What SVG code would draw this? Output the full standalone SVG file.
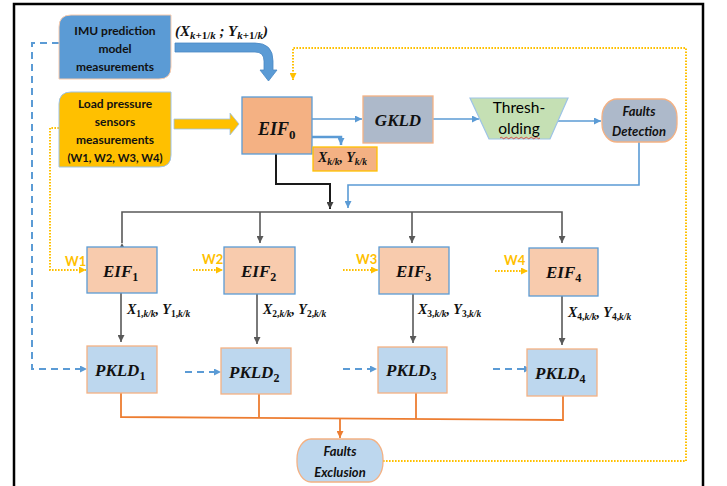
<svg xmlns="http://www.w3.org/2000/svg" width="727" height="486" viewBox="0 0 727 486">
<defs>
<style>
.sans{font-family:Lato,"Liberation Sans",sans-serif;font-weight:bold;fill:#111;text-anchor:middle}
.it{font-style:italic}
.reg{font-family:Lato,"Liberation Sans",sans-serif;fill:#000;text-anchor:middle}
.math{font-family:"Liberation Serif","DejaVu Serif",serif;font-weight:bold;font-style:italic;fill:#111}
.up{font-style:normal}
.mid{text-anchor:middle}
.wl{font-family:Lato,"Liberation Sans",sans-serif;font-weight:bold;fill:#FFC000;font-size:13px}
.blue{fill:none;stroke:#5B9BD5;stroke-width:1.6}
.grey{fill:none;stroke:#595959;stroke-width:1.6}
.dark{fill:none;stroke:#1a1a1a;stroke-width:2}
.orng{fill:none;stroke:#ED7D31;stroke-width:1.8}
.ydot{fill:none;stroke:#FFC000;stroke-width:2;stroke-dasharray:1.6 1.4}
.bdash{fill:none;stroke:#5B9BD5;stroke-width:2;stroke-dasharray:7 5}
.eif{fill:#F8CBAD;stroke:#5B9BD5;stroke-width:1.3}
.pkld{fill:#BDD7EE;stroke:#F4B183;stroke-width:1.3}
</style>
<marker id="ab" viewBox="0 0 10 10" refX="10" refY="5" markerWidth="7" markerHeight="7" markerUnits="userSpaceOnUse" orient="auto"><path d="M0,0L10,5L0,10z" fill="#5B9BD5"/></marker>
<marker id="ag" viewBox="0 0 10 10" refX="10" refY="5" markerWidth="7" markerHeight="7" markerUnits="userSpaceOnUse" orient="auto"><path d="M0,0L10,5L0,10z" fill="#595959"/></marker>
<marker id="ak" viewBox="0 0 10 10" refX="10" refY="5" markerWidth="7" markerHeight="7" markerUnits="userSpaceOnUse" orient="auto"><path d="M0,0L10,5L0,10z" fill="#404040"/></marker>
<marker id="ao" viewBox="0 0 10 10" refX="10" refY="5" markerWidth="7" markerHeight="7" markerUnits="userSpaceOnUse" orient="auto"><path d="M0,0L10,5L0,10z" fill="#ED7D31"/></marker>
<marker id="ay" viewBox="0 0 10 10" refX="10" refY="5" markerWidth="7" markerHeight="7" markerUnits="userSpaceOnUse" orient="auto"><path d="M0,0L10,5L0,10z" fill="#FFC000"/></marker>
</defs>
<rect x="0" y="0" width="727" height="486" fill="#fff"/>
<rect id="frame" x="14" y="4" width="689" height="492" fill="none" stroke="#000" stroke-width="2.5"/>

<g id="connectors">
<path d="M175,43 L255,43 Q273,43 273,61 L273,70 L277,70 L268.5,81 L260,70 L264,70 L264,61 Q264,52 255,52 L175,52 Z" fill="#5B9BD5" stroke="#4A88C4" stroke-width="0.8"/>
<path d="M174,119 L230,119 L230,113 L239,124 L230,135 L230,129 L174,129 Z" fill="#FFC000" stroke="#9DC3E6" stroke-width="0.8"/>
<path class="blue" d="M312,119 H362" marker-end="url(#ab)"/>
<path class="blue" d="M433,119 H479" marker-end="url(#ab)"/>
<path class="blue" d="M558,121 H601" marker-end="url(#ab)"/>
<path class="blue" d="M639,142 V185 H348 V208" marker-end="url(#ab)"/>
<path class="blue" style="stroke-width:2.5" d="M312,137 H341 V145" marker-end="url(#ab)"/>
<path class="dark" d="M276,154 V184 H330 V209" marker-end="url(#ak)"/>
<path class="grey" d="M122,243 V212 H562 V243" marker-start="url(#ag)" marker-end="url(#ag)"/>
<path class="grey" d="M260,212 V243" marker-end="url(#ag)"/>
<path class="grey" d="M412,212 V243" marker-end="url(#ag)"/>
<path class="grey" d="M121,293 V342" marker-end="url(#ag)"/>
<path class="grey" d="M257,294 V344" marker-end="url(#ag)"/>
<path class="grey" d="M413,294 V343" marker-end="url(#ag)"/>
<path class="grey" d="M562,296 V345" marker-end="url(#ag)"/>
<path class="orng" d="M121,393 V417 L563,420 V396"/>
<path class="orng" d="M259,394 V418"/>
<path class="orng" d="M416,393 V419"/>
<path class="orng" d="M340,419 V438" marker-end="url(#ao)"/>
<path class="ydot" d="M383,461 H686 V48 H293 V80" marker-end="url(#ay)"/>
<path class="ydot" d="M59,128 H50 V270 H86" marker-end="url(#ay)"/>
<path class="ydot" d="M193,270 H223" marker-end="url(#ay)"/>
<path class="ydot" d="M343,270 H378" marker-end="url(#ay)"/>
<path class="ydot" d="M495,271 H528" marker-end="url(#ay)"/>
<path class="bdash" d="M59,43 H32 V369 H87" marker-end="url(#ab)"/>
<path class="bdash" d="M185,372 H221" marker-end="url(#ab)"/>
<path class="bdash" d="M343,369 H377" marker-end="url(#ab)"/>
<path class="bdash" d="M493,369 H531" marker-end="url(#ab)"/>
</g>

<g id="labels">
<text class="math" x="175" y="36" font-size="15">(X<tspan font-size="11" dy="3">k<tspan class="up">+1/</tspan>k</tspan><tspan dy="-3"> ; Y</tspan><tspan font-size="11" dy="3">k<tspan class="up">+1/</tspan>k</tspan><tspan dy="-3">)</tspan></text>
<text class="wl" x="65" y="266">W1</text>
<text class="wl" x="202" y="264">W2</text>
<text class="wl" x="356" y="264">W3</text>
<text class="wl" x="504" y="265">W4</text>
<text class="math" x="127" y="314" font-size="14">X<tspan font-size="9.5" dy="3"><tspan class="up">1,</tspan>k/k</tspan><tspan dy="-3">, Y</tspan><tspan font-size="9.5" dy="3"><tspan class="up">1,</tspan>k/k</tspan></text>
<text class="math" x="263" y="314" font-size="14">X<tspan font-size="9.5" dy="3"><tspan class="up">2,</tspan>k/k</tspan><tspan dy="-3">, Y</tspan><tspan font-size="9.5" dy="3"><tspan class="up">2,</tspan>k/k</tspan></text>
<text class="math" x="418" y="314" font-size="14">X<tspan font-size="9.5" dy="3"><tspan class="up">3,</tspan>k/k</tspan><tspan dy="-3">, Y</tspan><tspan font-size="9.5" dy="3"><tspan class="up">3,</tspan>k/k</tspan></text>
<text class="math" x="568" y="317" font-size="14">X<tspan font-size="9.5" dy="3"><tspan class="up">4,</tspan>k/k</tspan><tspan dy="-3">, Y</tspan><tspan font-size="9.5" dy="3"><tspan class="up">4,</tspan>k/k</tspan></text>
</g>

<g id="imu">
<path d="M71,15 H171 V67 Q171,79 159,79 H59 V27 Q59,15 71,15 Z" fill="#5B9BD5" stroke="#F8CBAD" stroke-width="1"/>
<text class="sans" x="115" y="35" font-size="12">IMU prediction</text>
<text class="sans" x="115" y="53" font-size="12">model</text>
<text class="sans" x="115" y="71" font-size="12">measurements</text>
</g>

<g id="load">
<path d="M71,92 H171 V155 Q171,167 159,167 H59 V104 Q59,92 71,92 Z" fill="#FFC000" stroke="#9DC3E6" stroke-width="1"/>
<text class="sans" x="115" y="108" font-size="12">Load pressure</text>
<text class="sans" x="115" y="126" font-size="12">sensors</text>
<text class="sans" x="115" y="144" font-size="12">measurements</text>
<text class="sans" x="115" y="162" font-size="12" textLength="95" lengthAdjust="spacingAndGlyphs">(W1, W2, W3, W4)</text>
</g>

<g id="eif0">
<rect x="242" y="97" width="70" height="57" fill="#F4B183" stroke="#5B9BD5" stroke-width="1.3"/>
<text class="math" x="258" y="135" font-size="18">EIF<tspan class="up" font-size="13" dy="4">0</tspan></text>
</g>

<g id="xkk">
<rect x="313" y="147" width="64" height="24" fill="#F4B183" stroke="#FFC000" stroke-width="1.3"/>
<text class="math" x="318" y="162" font-size="14">X<tspan font-size="9.5" dy="3">k/k</tspan><tspan dy="-3">, Y</tspan><tspan font-size="9.5" dy="3">k/k</tspan></text>
</g>

<g id="gkld">
<rect x="363" y="96" width="70" height="47" fill="#ADB9CA" stroke="#F4B183" stroke-width="1.3"/>
<text class="math mid" x="398" y="126" font-size="17">GKLD</text>
</g>

<g id="thresholding">
<path d="M470,98 H568 L550,139 H489 Z" fill="#C5E0B4" stroke="#9DC3E6" stroke-width="1.2"/>
<text class="reg" x="519" y="113" font-size="15.5">Thresh-</text>
<text class="reg" x="519" y="134" font-size="15.5">olding</text>
<path d="M500,138 q1.25,-1.5 2.5,0 t2.5,0 t2.5,0 t2.5,0 t2.5,0 t2.5,0 t2.5,0 t2.5,0 t2.5,0 t2.5,0 t2.5,0 t2.5,0 t2.5,0 t2.5,0 t2.5,0 t2.5,0" fill="none" stroke="#E03030" stroke-width="0.8"/>
</g>

<g id="faults-detection">
<rect x="602" y="99" width="75" height="43" rx="15" ry="18" fill="#ADB9CA" stroke="#F4B183" stroke-width="1.3"/>
<text class="sans it" x="639" y="116" font-size="13">Faults</text>
<text class="sans it" x="639" y="136" font-size="13">Detection</text>
</g>

<g id="eif1"><rect class="eif" x="87" y="247" width="70" height="46"/><text class="math" x="103" y="277" font-size="17">EIF<tspan class="up" font-size="12" dy="4">1</tspan></text></g>
<g id="eif2"><rect class="eif" x="224" y="247" width="71" height="47"/><text class="math" x="241" y="277" font-size="17">EIF<tspan class="up" font-size="12" dy="4">2</tspan></text></g>
<g id="eif3"><rect class="eif" x="379" y="247" width="70" height="47"/><text class="math" x="396" y="277" font-size="17">EIF<tspan class="up" font-size="12" dy="4">3</tspan></text></g>
<g id="eif4"><rect class="eif" x="529" y="248" width="69" height="48"/><text class="math" x="546" y="278" font-size="17">EIF<tspan class="up" font-size="12" dy="4">4</tspan></text></g>

<g id="pkld1"><rect class="pkld" x="87" y="346" width="70" height="47"/><text class="math" x="95" y="376" font-size="17">PKLD<tspan class="up" font-size="12" dy="4">1</tspan></text></g>
<g id="pkld2"><rect class="pkld" x="221" y="348" width="70" height="46"/><text class="math" x="229" y="378" font-size="17">PKLD<tspan class="up" font-size="12" dy="4">2</tspan></text></g>
<g id="pkld3"><rect class="pkld" x="378" y="347" width="69" height="46"/><text class="math" x="386" y="376" font-size="17">PKLD<tspan class="up" font-size="12" dy="4">3</tspan></text></g>
<g id="pkld4"><rect class="pkld" x="527" y="349" width="70" height="47"/><text class="math" x="535" y="379" font-size="17">PKLD<tspan class="up" font-size="12" dy="4">4</tspan></text></g>

<g id="faults-exclusion">
<rect x="297" y="439" width="86" height="43" rx="14" ry="20" fill="#BDD7EE" stroke="#F4B183" stroke-width="1.3"/>
<text class="sans it" x="340" y="456" font-size="13">Faults</text>
<text class="sans it" x="340" y="477" font-size="13">Exclusion</text>
</g>
</svg>
